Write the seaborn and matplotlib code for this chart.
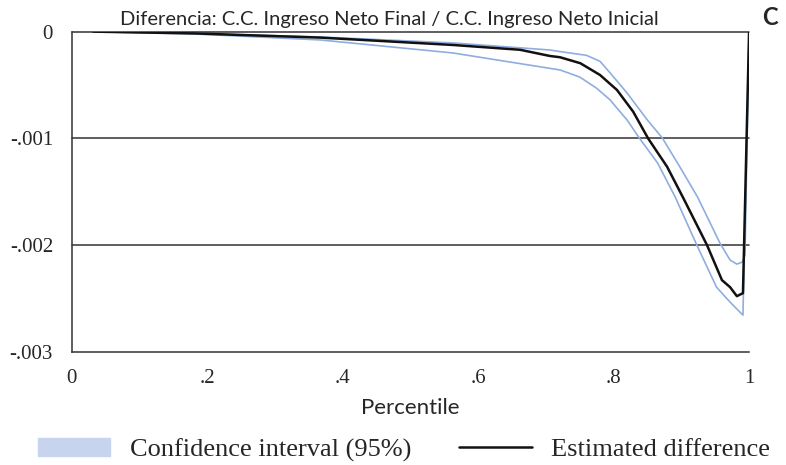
import numpy as np
import pandas as pd
import matplotlib
matplotlib.use("Agg")
import matplotlib.pyplot as plt
import matplotlib.patches as mpatches
import matplotlib.lines as mlines
import seaborn as sns

sns.set_style("white")
plt.rcParams['font.family'] = ['Liberation Serif', 'DejaVu Serif']

# ------------------------------------------------------------
# data
# ------------------------------------------------------------
pct = [0.032, 0.182, 0.367, 0.563, 0.662, 0.706, 0.721, 0.751, 0.780, 0.805,
       0.829, 0.851, 0.879, 0.903, 0.932, 0.938, 0.960, 0.972, 0.982, 0.991, 1.0]
estimate = [0.0, -0.000017, -0.000056, -0.000125, -0.00017, -0.000228, -0.00024,
            -0.000296, -0.000406, -0.000546, -0.00075, -0.001, -0.001265,
            -0.001559, -0.001924, -0.002, -0.002327, -0.002393, -0.002477,
            -0.002449, -0.00001]

up_pct = [0.032, 0.182, 0.367, 0.563, 0.706, 0.721, 0.760, 0.780, 0.795, 0.820,
          0.850, 0.872, 0.898, 0.924, 0.957, 0.972, 0.982, 0.990, 0.994, 1.0]
ci_upper = [0.0, -0.000017, -0.00005, -0.000106, -0.000172, -0.000187, -0.000222,
            -0.000278, -0.000387, -0.000575, -0.000828, -0.000996, -0.001268,
            -0.001549, -0.00198, -0.002139, -0.002177, -0.002158, -0.002093, 0.0]

lo_pct = [0.032, 0.182, 0.367, 0.563, 0.721, 0.750, 0.775, 0.795, 0.820, 0.838,
          0.865, 0.891, 0.923, 0.952, 0.972, 0.991, 1.0]
ci_lower = [0.0, -0.000022, -0.000078, -0.0002, -0.000359, -0.000425, -0.000530,
            -0.00064, -0.000828, -0.000996, -0.00123, -0.001549, -0.002,
            -0.002393, -0.002533, -0.002655, 0.0]

x_ticks = [0, 0.2, 0.4, 0.6, 0.8, 1.0]
x_labels = ["0", ".2", ".4", ".6", ".8", "1"]
y_ticks = [0, -0.001, -0.002, -0.003]
y_labels = ["0", "-.001", "-.002", "-.003"]

CI_COLOR = "#8eaee0"
PATCH_COLOR = "#c6d4ee"
GRID = "#333333"
SANS = ["Lato", "DejaVu Sans"]

fig = plt.figure(figsize=(7.86, 4.65), dpi=100)
ax = fig.add_axes([0.091, 0.243, 0.862, 0.689])

for yv in [0, -0.001, -0.002]:
    ax.axhline(yv, color=GRID, linewidth=1.1, zorder=1, clip_on=False)

sns.lineplot(x=up_pct, y=ci_upper, ax=ax, color=CI_COLOR, linewidth=1.2,
             estimator=None, sort=False, zorder=2)
sns.lineplot(x=lo_pct, y=ci_lower, ax=ax, color=CI_COLOR, linewidth=1.2,
             estimator=None, sort=False, zorder=2)
sns.lineplot(x=pct, y=estimate, ax=ax, color="#111111", linewidth=1.8,
             estimator=None, sort=False, zorder=3)

ax.set_xlim(0, 1)
ax.set_ylim(-0.003, 0)
ax.set_xticks(x_ticks)
ax.set_xticklabels(x_labels, fontsize=15)
ax.set_yticks(y_ticks)
ax.set_yticklabels(y_labels, fontsize=15)
ax.tick_params(direction="inout", length=8.5, width=1.1, color=GRID)
ax.tick_params(axis="x", pad=8)
ax.tick_params(axis="y", pad=9)
for side in ["top", "right"]:
    ax.spines[side].set_visible(False)
for side in ["left", "bottom"]:
    ax.spines[side].set_color(GRID)
    ax.spines[side].set_linewidth(1.1)

ax.set_xlabel("Percentile", fontsize=16, family=SANS, labelpad=7)
ax.set_ylabel("")

fig.text(0.496, 0.958, "Diferencia: C.C. Ingreso Neto Final / C.C. Ingreso Neto Inicial",
         ha="center", va="center", fontsize=14.5, family=SANS)
fig.text(0.970, 0.962, "C", ha="left", va="center", fontsize=17, fontweight="bold",
         family=SANS)

# legend along the bottom
handles = [mpatches.Patch(color=PATCH_COLOR, label="Confidence interval (95%)"),
           mlines.Line2D([], [], color="#111111", linewidth=1.8, label="Estimated difference")]
fig.legend(handles=handles, loc="center", bbox_to_anchor=(0.514, 0.032), ncol=2,
           frameon=False, fontsize=19, handlelength=2.75, handleheight=0.66,
           handletextpad=0.75, columnspacing=1.8, borderpad=0.1)

plt.savefig("out.png", dpi=100)
plt.close()
